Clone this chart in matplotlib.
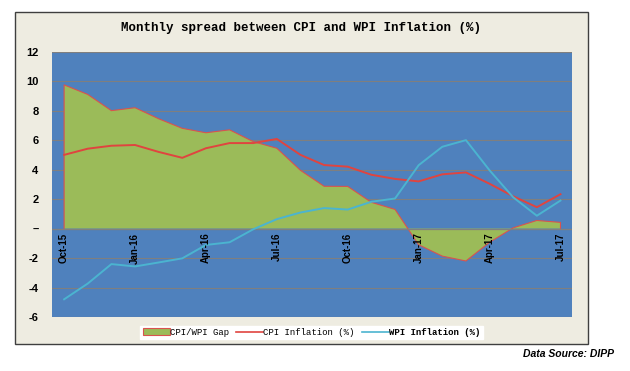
import matplotlib
matplotlib.use("Agg")
import matplotlib.pyplot as plt
from matplotlib.patches import Rectangle, Patch
from matplotlib.lines import Line2D
from matplotlib.transforms import offset_copy

months = ["Oct-15", "Nov-15", "Dec-15", "Jan-16", "Feb-16", "Mar-16", "Apr-16", "May-16",
          "Jun-16", "Jul-16", "Aug-16", "Sep-16", "Oct-16", "Nov-16", "Dec-16", "Jan-17",
          "Feb-17", "Mar-17", "Apr-17", "May-17", "Jun-17", "Jul-17"]
gap = [9.75, 9.1, 8.0, 8.2, 7.45, 6.8, 6.5, 6.7, 5.9, 5.45, 3.95, 2.87,
       2.86, 1.78, 1.3, -1.1, -1.87, -2.2, -0.93, 0.05, 0.55, 0.42]
cpi = [5.0, 5.42, 5.62, 5.67, 5.2, 4.8, 5.45, 5.8, 5.8, 6.08, 5.0, 4.31,
       4.2, 3.65, 3.37, 3.2, 3.68, 3.81, 3.04, 2.19, 1.45, 2.33]
wpi = [-4.8, -3.73, -2.41, -2.57, -2.3, -2.02, -1.11, -0.93, -0.05, 0.64, 1.09, 1.39,
       1.29, 1.82, 2.04, 4.3, 5.55, 6.0, 3.95, 2.12, 0.87, 1.9]
yticks = [-6, -4, -2, 0, 2, 4, 6, 8, 10, 12]
ylabels = ["-6", "-4", "-2", "\u2013", "2", "4", "6", "8", "10", "12"]

W, H = 630, 371
fig = plt.figure(figsize=(W / 100, H / 100), dpi=100)
fig.patch.set_facecolor("white")

# beige chart box, kept behind the axes
box = Rectangle((15 / W, 1 - 344 / H), (587.5 - 15) / W, (344 - 12) / H,
                transform=fig.transFigure, facecolor="#EEECE1",
                edgecolor="#3F3F3F", lw=1.0, zorder=-5)
fig.patches.append(box)

ax = fig.add_axes([52.3 / W, 1 - 317 / H, 520 / W, 265.3 / H])
ax.set_facecolor("#4F81BD")
for s in ax.spines.values():
    s.set_visible(False)

x = list(range(len(months)))
ax.set_xlim(-0.5, len(months) - 0.5)
ax.set_ylim(-6, 12)
for t in yticks:
    ax.axhline(t, color="#7F7F7F", lw=0.8, zorder=0)

# gap area with red outline
ax.fill_between(x, gap, 0, facecolor="#9BBB59", edgecolor="none", zorder=1)
ax.plot([x[0]] + x + [x[-1]], [0] + gap + [0], color="#D9534F", lw=0.8, zorder=2)
ax.axhline(0, color="#808080", lw=0.9, zorder=3)

ax.plot(x, cpi, color="#E0443F", lw=1.4, zorder=4)
ax.plot(x, wpi, color="#4BB4D0", lw=1.4, zorder=4)

ax.set_xticks([])
ax.set_yticks(yticks)
ax.set_yticklabels(ylabels, fontsize=8, fontweight="bold", family="Liberation Sans")
ax.tick_params(axis="y", length=0, pad=10)

tr = offset_copy(ax.transData, fig=fig, y=-4, units="dots")
for i in range(0, len(months), 3):
    ax.text(i, 0, months[i], transform=tr, rotation=90, ha="center", va="top",
            fontsize=7, fontweight="bold", family=["Liberation Sans Narrow", "Liberation Sans"],
            zorder=5)

fig.text(301 / W, 1 - 28 / H, "Monthly spread between CPI and WPI Inflation (%)",
         ha="center", va="center", fontsize=9, fontweight="bold", family="Liberation Mono")

handles = [Patch(facecolor="#9BBB59", edgecolor="#D9534F", lw=0.8),
           Line2D([], [], color="#E0443F", lw=1.2),
           Line2D([], [], color="#4BB4D0", lw=1.2)]
leg = fig.legend(handles, ["CPI/WPI Gap", "CPI Inflation (%)", "WPI Inflation (%)"],
                 loc="center", bbox_to_anchor=(311.5 / W, 1 - 332.5 / H), ncol=3,
                 frameon=True, fancybox=False, framealpha=1, edgecolor="white",
                 prop={"family": "Liberation Mono", "size": 6.5},
                 handlelength=3.0, handleheight=0.8, handletextpad=0.0,
                 columnspacing=0.8, borderpad=0.25)
leg.get_texts()[2].set_fontweight("bold")

fig.text(614 / W, 1 - 354 / H, "Data Source: DIPP", ha="right", va="center",
         fontsize=7.5, fontweight="bold", style="italic",
         family=["Liberation Sans Narrow", "Liberation Sans"])

fig.savefig("out.png", dpi=100, facecolor="white")
